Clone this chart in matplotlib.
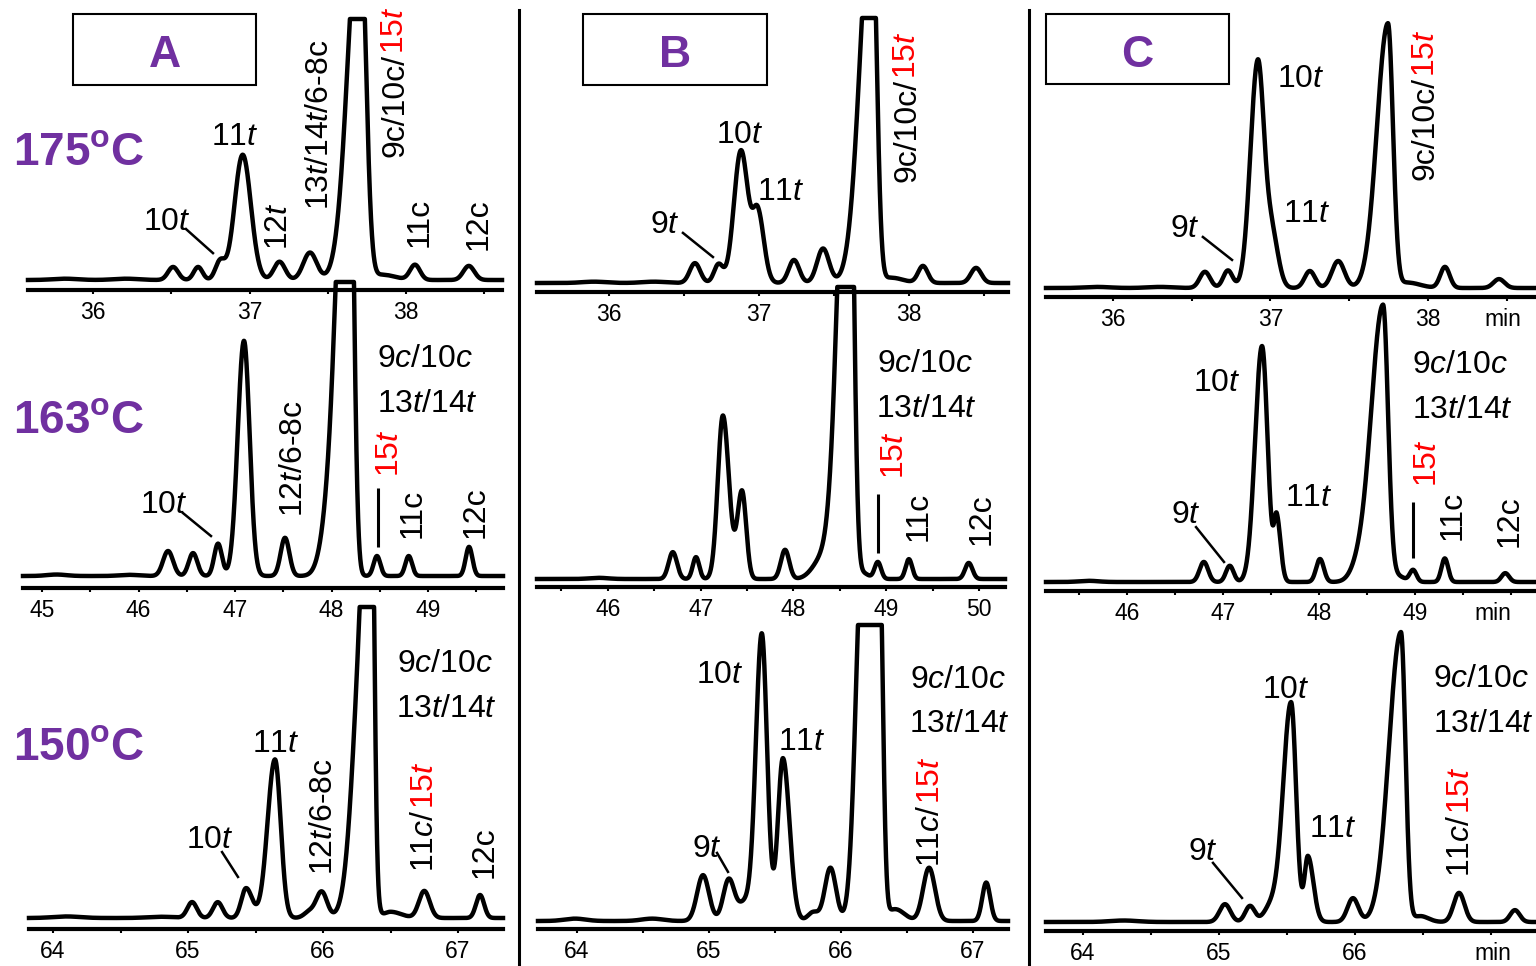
import numpy as np
import matplotlib
matplotlib.use("Agg")
import matplotlib.pyplot as plt
from matplotlib import font_manager as fm
from matplotlib.patches import Rectangle
from matplotlib.lines import Line2D
from matplotlib.ticker import MultipleLocator

# ---------------- fonts ----------------
_names = {f.name for f in fm.fontManager.ttflist}
NARROW = "Liberation Sans Narrow" in _names
FAM = "Liberation Sans Narrow" if NARROW else "Liberation Sans"
plt.rcParams["font.family"] = [FAM, "DejaVu Sans"]
plt.rcParams["mathtext.fontset"] = "custom"
plt.rcParams["mathtext.rm"] = FAM
plt.rcParams["mathtext.it"] = FAM + ":italic"
plt.rcParams["mathtext.bf"] = FAM + ":bold"

PURPLE = "#7030A0"
RED = "#FF0000"

# ---------------- data ----------------
# peaks: (retention time [min], height [% of full scale], sigma left, sigma right)
PEAKS_A175 = [(35.82, 0.5, 0.08, 0.08), (36.21, 0.5, 0.08, 0.08),
              (36.51, 5.0, 0.032, 0.032), (36.67, 5.0, 0.028, 0.028), (36.81, 7.0, 0.03, 0.03),
              (36.955, 48, 0.052, 0.052), (37.19, 7.0, 0.036, 0.036), (37.385, 10.5, 0.043, 0.043),
              (37.704, 144, 0.075, 0.037), (37.85, 2.0, 0.05, 0.08),
              (38.056, 5.8, 0.032, 0.032), (38.40, 5.4, 0.035, 0.035)]
PEAKS_B175 = [(35.9, 0.5, 0.08, 0.08), (36.3, 0.5, 0.08, 0.08),
              (36.573, 7.5, 0.035, 0.035), (36.73, 7.0, 0.03, 0.03),
              (36.88, 50, 0.047, 0.047), (36.993, 26, 0.035, 0.04),
              (37.233, 8.7, 0.035, 0.035), (37.427, 13, 0.04, 0.04),
              (37.753, 144, 0.078, 0.031), (37.88, 2.0, 0.05, 0.08),
              (38.093, 6.4, 0.032, 0.032), (38.447, 5.7, 0.035, 0.035)]
PEAKS_C175 = [(35.9, 0.4, 0.08, 0.08), (36.3, 0.4, 0.08, 0.08),
              (36.584, 6.0, 0.033, 0.033), (36.73, 6.5, 0.03, 0.03),
              (36.92, 84, 0.047, 0.04), (37.01, 19, 0.035, 0.04),
              (37.25, 6.3, 0.033, 0.033), (37.43, 10, 0.04, 0.04),
              (37.746, 98, 0.07, 0.032), (37.87, 2.0, 0.05, 0.08),
              (38.108, 7.8, 0.03, 0.03), (38.451, 3.3, 0.035, 0.035)]

PEAKS_A163 = [(45.15, 0.5, 0.1, 0.1), (45.9, 0.4, 0.1, 0.1),
              (46.306, 8.5, 0.052, 0.052), (46.565, 7.8, 0.045, 0.045), (46.824, 11, 0.04, 0.04),
              (47.093, 80, 0.065, 0.058), (47.518, 13, 0.045, 0.045),
              (47.95, 8, 0.08, 0.08), (48.181, 200, 0.114, 0.044),
              (48.471, 6.8, 0.035, 0.035), (48.80, 6.8, 0.035, 0.035), (49.425, 9.9, 0.035, 0.035)]
PEAKS_B163 = [(45.9, 0.4, 0.1, 0.1),
              (46.70, 9.2, 0.045, 0.045), (46.95, 7.5, 0.035, 0.035),
              (47.24, 56, 0.055, 0.065), (47.446, 30, 0.05, 0.045),
              (47.91, 10, 0.045, 0.045), (48.3, 6, 0.1, 0.1),
              (48.60, 200, 0.108, 0.046), (48.75, 2.0, 0.05, 0.06),
              (48.91, 5.8, 0.035, 0.035), (49.245, 6.8, 0.035, 0.035), (49.89, 5.5, 0.04, 0.04)]
PEAKS_C163 = [(45.6, 0.4, 0.1, 0.1),
              (46.80, 6.8, 0.045, 0.045), (47.07, 5.5, 0.04, 0.04),
              (47.406, 80, 0.072, 0.058), (47.56, 21, 0.028, 0.04),
              (48.01, 7.8, 0.04, 0.04), (48.4, 3, 0.08, 0.08),
              (48.667, 94, 0.125, 0.052), (48.82, 2.0, 0.05, 0.07),
              (48.98, 4.0, 0.035, 0.035), (49.31, 8.0, 0.035, 0.035), (49.94, 3.0, 0.04, 0.04)]

PEAKS_A150 = [(64.1, 0.5, 0.1, 0.1), (64.8, 0.4, 0.1, 0.1),
              (65.03, 5.1, 0.035, 0.035), (65.22, 5.1, 0.035, 0.035), (65.43, 9.6, 0.035, 0.045),
              (65.644, 51, 0.055, 0.042), (65.9, 2.0, 0.04, 0.04), (65.99, 8.4, 0.04, 0.04),
              (66.313, 105, 0.078, 0.04), (66.36, 110, 0.04, 0.02), (66.5, 2.0, 0.05, 0.08),
              (66.75, 8.7, 0.04, 0.04), (67.163, 7.4, 0.03, 0.03)]
PEAKS_B150 = [(63.985, 0.8, 0.08, 0.08), (64.57, 0.8, 0.08, 0.08),
              (64.955, 15.5, 0.045, 0.045), (65.15, 14, 0.042, 0.042), (65.27, 6, 0.05, 0.05),
              (65.40, 97, 0.045, 0.04), (65.56, 55, 0.038, 0.05),
              (65.79, 3, 0.04, 0.04), (65.92, 18, 0.042, 0.042),
              (66.167, 130, 0.053, 0.053), (66.288, 130, 0.045, 0.027), (66.41, 4, 0.06, 0.07),
              (66.667, 18, 0.045, 0.045), (67.10, 13, 0.03, 0.03)]
PEAKS_C150 = [(64.3, 0.5, 0.1, 0.1),
              (65.044, 6.0, 0.04, 0.04), (65.228, 5.4, 0.035, 0.035), (65.38, 5, 0.05, 0.05),
              (65.53, 74, 0.059, 0.037), (65.654, 22, 0.025, 0.04),
              (65.985, 8.0, 0.04, 0.04),
              (66.338, 97.6, 0.088, 0.033), (66.48, 2.0, 0.05, 0.06),
              (66.765, 9.8, 0.04, 0.04), (67.176, 4.0, 0.035, 0.035)]

# x ranges (min) and tick labels
XLIM_A175, XLIM_B175, XLIM_C175 = (35.583, 38.612), (35.52, 38.66), (35.575, 38.686)
XLIM_A163, XLIM_B163, XLIM_C163 = (44.803, 49.777), (45.236, 50.281), (45.156, 50.26)
XLIM_A150, XLIM_B150, XLIM_C150 = (63.822, 67.333), (63.705, 67.265), (63.728, 67.331)

TICKS_175 = [36, 37, 38]
TICKS_A163 = [45, 46, 47, 48, 49]
TICKS_B163 = [46, 47, 48, 49, 50]
TICKS_C163 = [46, 47, 48, 49, 50]
TICKLABELS_C163 = ["46", "47", "48", "49", ""]
TICKS_150 = [64, 65, 66, 67]
TICKLABELS_C150 = ["64", "65", "66", ""]

MIN_C175, MIN_C163, MIN_C150 = 38.476, 49.8125, 67.015

IT = r"$\mathit{%s}$"
T9, T10, T11 = "9" + IT % "t", "10" + IT % "t", "11" + IT % "t"
T15 = "15" + IT % "t"
C9C10 = "9" + IT % "c" + "/10" + IT % "c"
T13T14 = "13" + IT % "t" + "/14" + IT % "t"

# labels: (kind, t, y, black text, red text)
LABELS_A175 = [("h", 36.905, 51.7, T11, ""), ("h", 36.471, 19.2, T10, ""),
               ("v", 37.167, 11.5, "12" + IT % "t", ""),
               ("v", 37.426, 26.8, "13" + IT % "t" + "/14" + IT % "t" + "/6-8c", ""),
               ("v", 37.909, 47.1, "9c/10c/", T15),
               ("v", 38.062, 12.6, "11c", ""), ("v", 38.445, 11.5, "12c", "")]
LABELS_B175 = [("h", 36.37, 18.9, T9, ""), ("h", 36.87, 52.8, T10, ""),
               ("h", 37.147, 31.3, T11, ""), ("v", 37.967, 38.1, "9c/10c/", T15)]
LABELS_C175 = [("h", 37.194, 74.4, T10, ""), ("h", 37.229, 24.4, T11, ""),
               ("h", 36.46, 18.9, T9, ""), ("v", 37.965, 40.0, "9c/10c/", T15)]
LABELS_A163 = [("hl", 48.472, 71.1, C9C10, ""), ("hl", 48.472, 55.8, T13T14, ""),
               ("v", 47.580, 20.1, "12" + IT % "t" + "/6-8c", ""), ("v", 48.570, 33.7, "", T15),
               ("v", 48.803, 12.9, "11c", ""), ("v", 49.461, 12.9, "12c", ""),
               ("h", 46.264, 21.4, T10, "")]
LABELS_B163 = [("hl", 48.899, 70.8, C9C10, ""), ("hl", 48.891, 55.4, T13T14, ""),
               ("v", 49.058, 34.2, "", T15), ("v", 49.311, 13.0, "11c", ""),
               ("v", 49.99, 11.6, "12c", "")]
LABELS_C163 = [("h", 46.932, 64.7, T10, ""), ("h", 47.896, 25.8, T11, ""),
               ("h", 46.609, 20.0, T9, ""), ("hl", 48.969, 70.9, C9C10, ""),
               ("hl", 48.969, 55.6, T13T14, ""), ("v", 49.099, 32.2, "", T15),
               ("v", 49.354, 14.2, "11c", ""), ("v", 49.948, 11.9, "12c", "")]
LABELS_A150 = [("hl", 66.548, 79.1, C9C10, ""), ("hl", 66.541, 64.6, T13T14, ""),
               ("h", 65.652, 53.4, T11, ""), ("h", 65.159, 22.5, T10, ""),
               ("v", 65.981, 13.8, "12" + IT % "t" + "/6-8c", ""),
               ("v", 66.73, 14.8, "11" + IT % "c" + "/", T15), ("v", 67.17, 12.9, "12c", "")]
LABELS_B150 = [("h", 65.083, 80.4, T10, ""), ("h", 65.705, 57.8, T11, ""),
               ("h", 64.981, 21.6, T9, ""), ("hl", 66.523, 78.8, C9C10, ""),
               ("hl", 66.515, 63.9, T13T14, ""), ("v", 66.659, 18.3, "11" + IT % "c" + "/", T15)]
LABELS_C150 = [("h", 65.493, 75.4, T10, ""), ("h", 65.838, 28.6, T11, ""),
               ("h", 64.879, 20.9, T9, ""), ("hl", 66.575, 79.1, C9C10, ""),
               ("hl", 66.575, 64.0, T13T14, ""), ("v", 66.754, 15.2, "11" + IT % "c" + "/", T15)]

# leader lines (t0, y0, t1, y1) and 15t marker lines (t, y0, y1)
LEADERS_A175 = [(36.593, 19.5, 36.765, 10.3)]
LEADERS_B175 = [(36.493, 18.9, 36.693, 9.8)]
LEADERS_C175 = [(36.571, 18.9, 36.756, 10.4)]
LEADERS_A163 = [(46.461, 21.4, 46.751, 13.6)]
LEADERS_C163 = [(46.719, 18.6, 47.01, 6.8)]
LEADERS_A150 = [(65.252, 21.2, 65.370, 13.2)]
LEADERS_B150 = [(65.061, 23.0, 65.144, 16.6)]
LEADERS_C150 = [(64.956, 19.9, 65.169, 8.1)]
MARKERS_A163 = [(48.482, 9.9, 29.9)]
MARKERS_B163 = [(48.912, 8.9, 29.1)]
MARKERS_C163 = [(48.979, 8.1, 27.1)]

ROW_TITLES = ["175", "163", "150"]
COLUMN_LETTERS = ["A", "B", "C"]
CLIP = 100.0

# ---------------- layout (pixels) ----------------
W, H = 1536, 966
# left, right, axis line y, baseline y, full-scale y
LAYOUT = {
    "A175": (28, 502, 290, 280, 19), "B175": (537, 1008, 292, 283, 18), "C175": (1046, 1536, 297, 288, 18),
    "A163": (23, 503, 588, 576, 282), "B163": (537, 1005, 587, 579, 287), "C163": (1046, 1536, 591, 582, 287),
    "A150": (29, 503, 929, 918, 607), "B150": (538, 1008, 929, 921, 625), "C150": (1046, 1536, 931, 922, 625),
}
TITLE_BASE_Y = [165, 433, 760]
BOXES = [(73, 14, 256, 85), (583, 14, 767, 85), (1046, 14, 1229, 84)]
DIVIDERS_X = [519, 1029]

PANELS = [
    ("A175", PEAKS_A175, XLIM_A175, TICKS_175, None, LABELS_A175, LEADERS_A175, [], None),
    ("B175", PEAKS_B175, XLIM_B175, TICKS_175, None, LABELS_B175, LEADERS_B175, [], None),
    ("C175", PEAKS_C175, XLIM_C175, TICKS_175, None, LABELS_C175, LEADERS_C175, [], MIN_C175),
    ("A163", PEAKS_A163, XLIM_A163, TICKS_A163, None, LABELS_A163, LEADERS_A163, MARKERS_A163, None),
    ("B163", PEAKS_B163, XLIM_B163, TICKS_B163, None, LABELS_B163, [], MARKERS_B163, None),
    ("C163", PEAKS_C163, XLIM_C163, TICKS_C163, TICKLABELS_C163, LABELS_C163, LEADERS_C163, MARKERS_C163, MIN_C163),
    ("A150", PEAKS_A150, XLIM_A150, TICKS_150, None, LABELS_A150, LEADERS_A150, [], None),
    ("B150", PEAKS_B150, XLIM_B150, TICKS_150, None, LABELS_B150, LEADERS_B150, [], None),
    ("C150", PEAKS_C150, XLIM_C150, TICKS_150, TICKLABELS_C150, LABELS_C150, LEADERS_C150, [], MIN_C150),
]

LW_TRACE = 3.2
LABEL_FS = 26.5 if NARROW else 23.0
TICK_FS = 18 if NARROW else 16.5
TITLE_FS = 39 if NARROW else 33
LETTER_FS = 35 if NARROW else 32
TICK_LEN, TICK_PAD = 3.0, 5.0
VOFF = 0.1 * LABEL_FS


def trace(x, peaks):
    y = np.zeros_like(x)
    for t, h, wl, wr in peaks:
        s = np.where(x < t, wl, wr)
        y += h * np.exp(-0.5 * ((x - t) / s) ** 2)
    return np.minimum(y, CLIP)


fig = plt.figure(figsize=(W / 100, H / 100), dpi=100)
fig.patch.set_facecolor("white")

for name, peaks, xlim, ticks, ticklabels, labels, leaders, markers, min_t in PANELS:
    left, right, axis_y, base_y, top_y = LAYOUT[name]
    ax = fig.add_axes([left / W, 1 - axis_y / H, (right - left) / W, (axis_y - top_y) / H])
    ax.patch.set_visible(False)
    ymin = -(axis_y - base_y) * CLIP / (base_y - top_y)
    ax.set_xlim(*xlim)
    ax.set_ylim(ymin, CLIP)
    x = np.linspace(xlim[0], xlim[1], 4000)
    ax.plot(x, trace(x, peaks), color="black", lw=LW_TRACE, clip_on=False,
            solid_joinstyle="round", zorder=3)
    for sp in ("top", "left", "right"):
        ax.spines[sp].set_visible(False)
    ax.spines["bottom"].set_linewidth(3.0)
    ax.set_yticks([])
    ax.set_xticks(ticks)
    ax.set_xticklabels(ticklabels if ticklabels else [str(t) for t in ticks])
    ax.xaxis.set_minor_locator(MultipleLocator(0.5))
    ax.tick_params(axis="x", which="both", direction="out", length=TICK_LEN, width=1.5,
                   pad=TICK_PAD, labelsize=TICK_FS)
    if min_t is not None:
        ax.annotate("min", xy=(min_t, 0), xycoords=("data", "axes fraction"),
                    xytext=(0, -(TICK_LEN + TICK_PAD)), textcoords="offset points",
                    ha="center", va="top", fontsize=TICK_FS)
    for t0, y0, t1, y1 in leaders:
        ax.plot([t0, t1], [y0, y1], color="black", lw=1.8, clip_on=False)
    for t, y0, y1 in markers:
        ax.plot([t, t], [y0, y1], color="black", lw=2.2, clip_on=False, solid_capstyle="butt")
    for kind, t, y, black, red in labels:
        if kind == "h":
            ax.text(t, y, black, ha="center", va="baseline", fontsize=LABEL_FS)
        elif kind == "hl":
            ax.text(t, y, black, ha="left", va="baseline", fontsize=LABEL_FS)
        else:
            if black:
                tb = ax.annotate(black, xy=(t, y), xytext=(VOFF, 0), textcoords="offset points",
                                 rotation=90, ha="center", va="bottom", fontsize=LABEL_FS)
                if red:
                    ax.annotate(red, xy=(0.5, 1.0), xycoords=tb, rotation=90, ha="center",
                                va="bottom", fontsize=LABEL_FS, color=RED)
            else:
                ax.annotate(red, xy=(t, y), xytext=(VOFF, 0), textcoords="offset points",
                            rotation=90, ha="center", va="bottom", fontsize=LABEL_FS, color=RED)

# row titles (temperature in degrees C)
for title, yb in zip(ROW_TITLES, TITLE_BASE_Y):
    fig.text(13 / W, 1 - yb / H, title + r"$^{\mathbf{o}}$C",
             color=PURPLE, fontsize=TITLE_FS, fontweight="bold", ha="left", va="baseline")

# column boxes
for (x0, y0, x1, y1), letter in zip(BOXES, COLUMN_LETTERS):
    fig.add_artist(Rectangle((x0 / W, 1 - y1 / H), (x1 - x0) / W, (y1 - y0) / H,
                             transform=fig.transFigure, fill=False, lw=1.5, edgecolor="black"))
    fig.text((x0 + x1) / 2 / W, 1 - 67 / H, letter, color=PURPLE, fontsize=LETTER_FS,
             fontweight="bold", ha="center", va="baseline")

# column dividers
for xd in DIVIDERS_X:
    fig.add_artist(Line2D([xd / W, xd / W], [0, 1 - 10 / H], transform=fig.transFigure,
                          color="black", lw=2.2))

fig.savefig("out.png", dpi=100)
